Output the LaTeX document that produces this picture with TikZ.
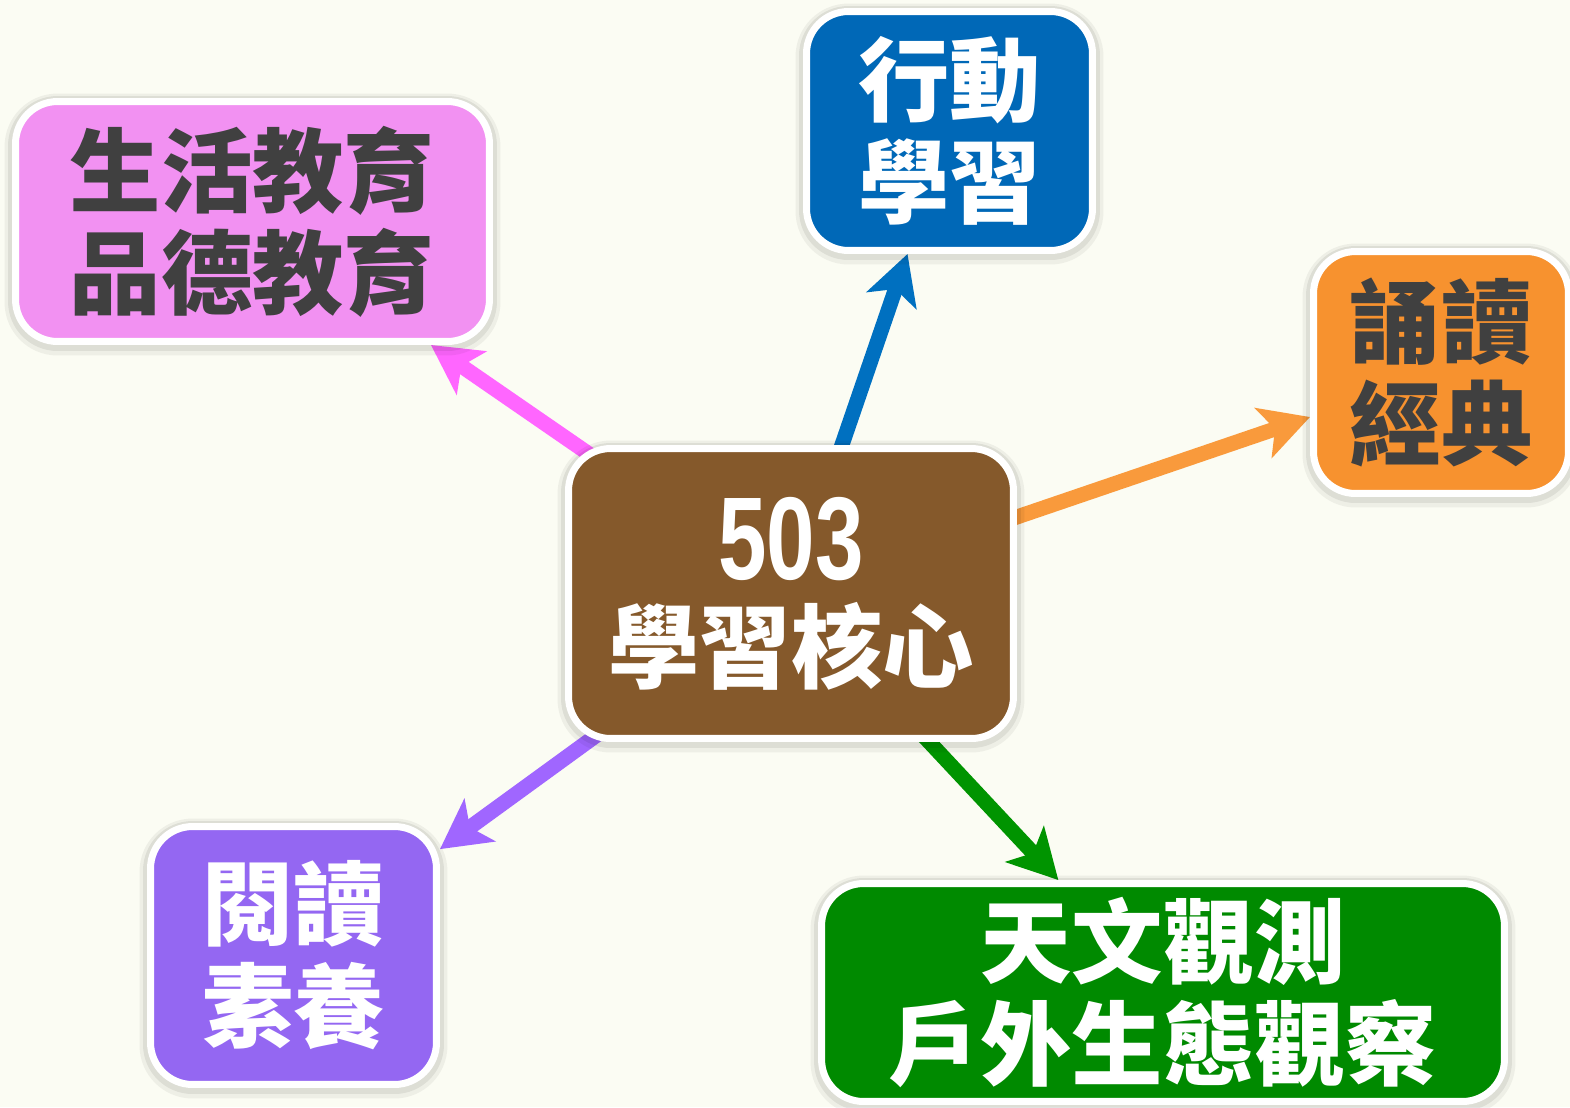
\documentclass[tikz,border=0pt]{standalone}
\usepackage{fontspec}
\usepackage{graphicx}
\usetikzlibrary{arrows.meta,backgrounds}
\newfontfamily\cjk{Noto Sans CJK TC}
\setsansfont{Liberation Sans}

\definecolor{paper}{HTML}{FBFCF3}
\definecolor{ink}{HTML}{404040}
\definecolor{pinkbox}{HTML}{F291F2}
\definecolor{pinkline}{HTML}{FF66FF}
\definecolor{bluebox}{HTML}{0068B7}
\definecolor{blueline}{HTML}{0070C0}
\definecolor{orangebox}{HTML}{F7922F}
\definecolor{orangeline}{HTML}{F99A3C}
\definecolor{brownbox}{HTML}{85592B}
\definecolor{purplebox}{HTML}{9467F2}
\definecolor{purpleline}{HTML}{A066FF}
\definecolor{greenbox}{HTML}{008A00}
\definecolor{greenline}{HTML}{009400}

\begin{document}
\begin{tikzpicture}[x=0.02cm,y=-0.02cm,
    topic/.style={draw=white, line width=0.14cm, rounded corners=0.84cm,
        align=center, inner sep=0pt,
        preaction={draw=black, draw opacity=0.05, line width=0.44cm,
            transform canvas={yshift=-0.06cm}},
        preaction={draw=black, draw opacity=0.07, line width=0.3cm,
            transform canvas={yshift=-0.04cm}},
        font=\cjk\bfseries\fontsize{52}{58}\selectfont},
    spoke/.style={line width=0.3cm,
        -{Stealth[length=0.98cm,width=1.04cm,inset=0.24cm]},
        shorten <=-0.5cm}]
    \useasboundingbox (0,0) rectangle (1570,1107);
    \begin{scope}[on background layer]
        \fill[paper] (0,0) rectangle (1570,1107);
    \end{scope}

    \node[topic, fill=pinkbox, text=ink, minimum width=9.48cm, minimum height=4.8cm]
        (life) at (252.5,221.5) {生活教育\\品德教育};
    \node[topic, fill=bluebox, text=white, minimum width=5.72cm, minimum height=4.78cm]
        (mobile) at (949.5,131) {行動\\學習};
    \node[topic, fill=orangebox, text=ink, minimum width=5.1cm, minimum height=4.84cm]
        (classics) at (1441,372.5) {誦讀\\經典};
    \node[topic, fill=brownbox, text=white, minimum width=8.9cm, minimum height=5.8cm]
        (core) at (791,593.5)
        {\scalebox{0.74}[1]{\sffamily\bfseries\fontsize{67}{67}\selectfont 503}\\學習核心};
    \node[topic, fill=purplebox, text=white, minimum width=5.72cm, minimum height=5.16cm]
        (reading) at (293.5,955.5) {閱讀\\素養};
    \node[topic, fill=greenbox, text=white, minimum width=13.66cm, minimum height=4.36cm]
        (nature) at (1163,992.5) {天文觀測\\戶外生態觀察};

    \begin{scope}[on background layer]
        \foreach \t/\c in {life/pinkline, mobile/blueline, classics/orangeline,
                reading/purpleline, nature/greenline}
            \draw[spoke, \c] (core) -- (\t);
    \end{scope}
\end{tikzpicture}
\end{document}
